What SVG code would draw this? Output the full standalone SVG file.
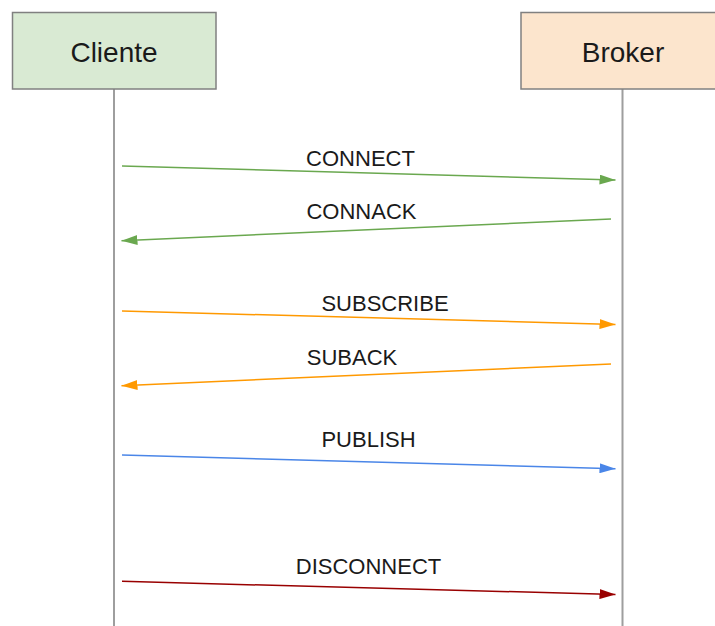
<svg xmlns="http://www.w3.org/2000/svg" width="715" height="626" viewBox="0 0 715 626">
  <defs>
    <style>
      .box { stroke: #808080; stroke-width: 1.5; }
      .lifeline { stroke: #9e9e9e; stroke-width: 2; fill: none; }
      .title { font-family: "Liberation Sans", Arial, sans-serif; font-size: 28px; fill: #1a1a1a; text-anchor: middle; }
      .label { font-family: "Liberation Sans", Arial, sans-serif; font-size: 22px; fill: #1a1a1a; text-anchor: middle; }
      .msg { fill: none; stroke-width: 1.5; }
      .green { stroke: #6aa84f; }
      .orange { stroke: #ff9900; }
      .blue { stroke: #4a86e8; }
      .red { stroke: #990000; }
    </style>
    <marker id="arrow-green" markerUnits="userSpaceOnUse" markerWidth="16" markerHeight="10" refX="16" refY="5" orient="auto">
      <path d="M0,0 L16,5 L0,10 z" fill="#6aa84f"/>
    </marker>
    <marker id="arrow-orange" markerUnits="userSpaceOnUse" markerWidth="16" markerHeight="10" refX="16" refY="5" orient="auto">
      <path d="M0,0 L16,5 L0,10 z" fill="#ff9900"/>
    </marker>
    <marker id="arrow-blue" markerUnits="userSpaceOnUse" markerWidth="16" markerHeight="10" refX="16" refY="5" orient="auto">
      <path d="M0,0 L16,5 L0,10 z" fill="#4a86e8"/>
    </marker>
    <marker id="arrow-red" markerUnits="userSpaceOnUse" markerWidth="16" markerHeight="10" refX="16" refY="5" orient="auto">
      <path d="M0,0 L16,5 L0,10 z" fill="#990000"/>
    </marker>
  </defs>

  <rect width="715" height="626" fill="#ffffff"/>

  <!-- Participants with their lifelines -->
  <g id="cliente">
    <line class="lifeline" x1="114" y1="89" x2="114" y2="626"/>
    <rect class="box" x="12.5" y="12.5" width="203.5" height="76.5" fill="#d9ead3"/>
    <text class="title" x="114" y="62">Cliente</text>
  </g>
  <g id="broker">
    <line class="lifeline" x1="622.5" y1="89" x2="622.5" y2="626"/>
    <rect class="box" x="521" y="12.5" width="204" height="76.5" fill="#fce5cd"/>
    <text class="title" x="623" y="62">Broker</text>
  </g>

  <!-- Messages -->
  <g id="connectors">
    <line class="msg green" x1="122" y1="166" x2="615.5" y2="180" marker-end="url(#arrow-green)"/>
    <text class="label" x="360.5" y="166">CONNECT</text>

    <line class="msg green" x1="611" y1="219" x2="121.5" y2="240.7" marker-end="url(#arrow-green)"/>
    <text class="label" x="361.5" y="219">CONNACK</text>

    <line class="msg orange" x1="122" y1="311" x2="615.5" y2="324.5" marker-end="url(#arrow-orange)"/>
    <text class="label" x="385" y="311">SUBSCRIBE</text>

    <line class="msg orange" x1="611" y1="364" x2="121.5" y2="385.7" marker-end="url(#arrow-orange)"/>
    <text class="label" x="352" y="365">SUBACK</text>

    <line class="msg blue" x1="122" y1="455" x2="615.5" y2="468.7" marker-end="url(#arrow-blue)"/>
    <text class="label" x="368.5" y="447">PUBLISH</text>

    <line class="msg red" x1="122" y1="581.3" x2="615.5" y2="594.5" marker-end="url(#arrow-red)"/>
    <text class="label" x="368.5" y="574">DISCONNECT</text>
  </g>
</svg>
